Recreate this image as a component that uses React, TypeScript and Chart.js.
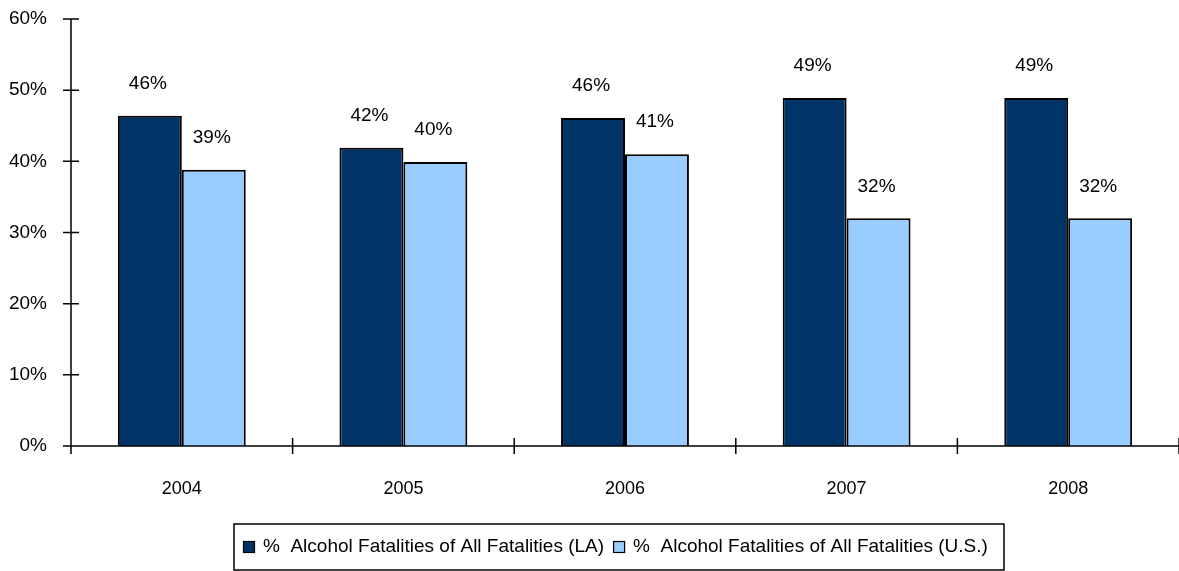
import React, { useEffect, useRef } from "react";
import { Chart, registerables } from "chart.js";
Chart.register(...registerables);

const categories = ["2004", "2005", "2006", "2007", "2008"];
const laValues = [46.4, 41.9, 46.1, 48.9, 48.9];
const usValues = [38.8, 39.9, 41.0, 32.0, 32.0];
const yTicks = [0, 10, 20, 30, 40, 50, 60];
const seriesNames = [
  "%  Alcohol Fatalities of All Fatalities (LA)",
  "%  Alcohol Fatalities of All Fatalities (U.S.)",
];
const colors = ["#003366", "#99CCFF"];
const FONT = "'Liberation Sans', Arial, sans-serif";

const axisPlugin = {
  id: "axisPlugin",
  afterDraw(chart: any) {
    const ctx = chart.ctx;
    const { left, right, top, bottom } = chart.chartArea;
    const y = chart.scales.y;
    ctx.save();
    ctx.strokeStyle = "#000";
    ctx.lineWidth = 1.5;
    ctx.beginPath();
    ctx.moveTo(left, top);
    ctx.lineTo(left, bottom + 8);
    ctx.moveTo(left - 8, bottom);
    ctx.lineTo(right, bottom);
    for (const v of yTicks) {
      const py = y.getPixelForValue(v);
      ctx.moveTo(left - 8, py);
      ctx.lineTo(left + 8, py);
    }
    const n = categories.length;
    const w = (right - left) / n;
    for (let i = 1; i <= n; i++) {
      const px = left + w * i;
      ctx.moveTo(px, bottom - 8);
      ctx.lineTo(px, bottom + 8);
    }
    ctx.stroke();

    // y tick labels
    ctx.fillStyle = "#000";
    ctx.font = `19px ${FONT}`;
    ctx.textAlign = "right";
    ctx.textBaseline = "middle";
    for (const v of yTicks) {
      ctx.fillText(v + "%", left - 24, y.getPixelForValue(v));
    }

    // data labels
    ctx.textAlign = "center";
    chart.data.datasets.forEach((ds: any, di: number) => {
      const meta = chart.getDatasetMeta(di);
      meta.data.forEach((bar: any, i: number) => {
        ctx.fillText(Math.round(ds.data[i]) + "%", bar.x - 2, bar.y - 32);
      });
    });

    // legend
    ctx.font = `19px ${FONT}`;
    ctx.textAlign = "left";
    const box = { l: 234, t: 524, r: 1004, b: 570 };
    ctx.lineWidth = 1.5;
    ctx.strokeRect(box.l, box.t, box.r - box.l, box.b - box.t);
    const cy = 547;
    let cx = 243;
    seriesNames.forEach((name, i) => {
      ctx.fillStyle = colors[i];
      ctx.fillRect(cx, cy - 6, 12, 12);
      ctx.lineWidth = 1.2;
      ctx.strokeRect(cx + 0.5, cy - 5.5, 11, 11);
      ctx.fillStyle = "#000";
      ctx.fillText(name, cx + 20, cy);
      cx += 20 + ctx.measureText(name).width + 9;
    });
    ctx.restore();
  },
};

export default function App() {
  const ref = useRef<HTMLCanvasElement>(null);
  useEffect(() => {
    document.body.style.margin = "0";
    const chart = new Chart(ref.current!, {
      type: "bar",
      data: {
        labels: categories,
        datasets: [
          { label: seriesNames[0], data: laValues, backgroundColor: colors[0], borderColor: "#000", borderWidth: 2, borderSkipped: "bottom" },
          { label: seriesNames[1], data: usValues, backgroundColor: colors[1], borderColor: "#000", borderWidth: 2, borderSkipped: "bottom" },
        ],
      },
      options: {
        responsive: false,
        animation: false,
        layout: { padding: { top: 19, right: 0, bottom: 0, left: 0 } },
        plugins: { legend: { display: false }, tooltip: { enabled: false } },
        datasets: { bar: { categoryPercentage: 0.577, barPercentage: 1 } },
        scales: {
          x: {
            grid: { display: false, drawTicks: false },
            border: { display: false },
            ticks: { color: "#000", font: { family: FONT, size: 18 }, padding: 32 },
            afterFit(s: any) { s.height = 125; },
          },
          y: {
            min: 0,
            max: 60,
            grid: { display: false, drawTicks: false },
            border: { display: false },
            ticks: { display: false, stepSize: 10 },
            afterFit(s: any) { s.width = 71; },
          },
        },
      },
      plugins: [axisPlugin],
    });
    return () => chart.destroy();
  }, []);
  return <canvas ref={ref} width={1179} height={571} style={{ display: "block" }} />;
}
